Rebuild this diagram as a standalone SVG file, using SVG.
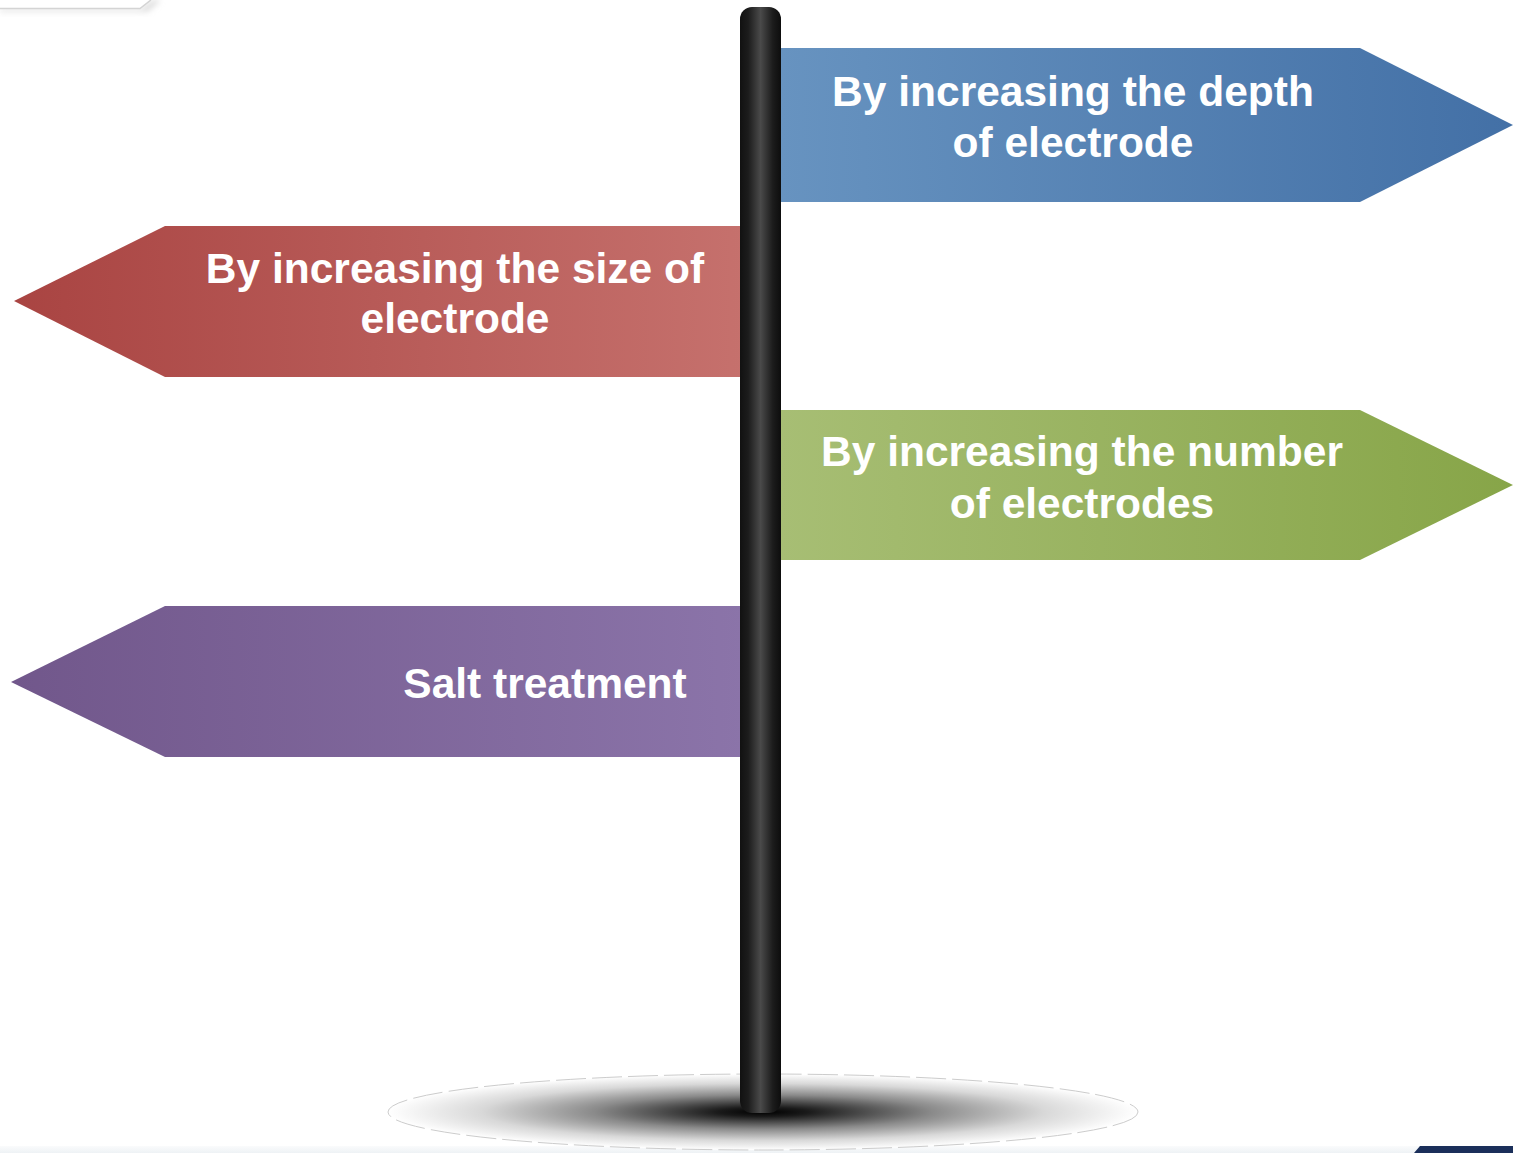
<svg xmlns="http://www.w3.org/2000/svg" width="1513" height="1153" viewBox="0 0 1513 1153">
<defs>
<linearGradient id="gBlue" x1="0" y1="0" x2="1" y2="0"><stop offset="0" stop-color="#6793c0"/><stop offset="1" stop-color="#4370a6"/></linearGradient>
<linearGradient id="gRed" x1="0" y1="0" x2="1" y2="0"><stop offset="0" stop-color="#a94442"/><stop offset="1" stop-color="#c7736f"/></linearGradient>
<linearGradient id="gGreen" x1="0" y1="0" x2="1" y2="0"><stop offset="0" stop-color="#a7be74"/><stop offset="1" stop-color="#87a548"/></linearGradient>
<linearGradient id="gPurple" x1="0" y1="0" x2="1" y2="0"><stop offset="0" stop-color="#71578b"/><stop offset="1" stop-color="#8b74a9"/></linearGradient>
<linearGradient id="gPole" x1="0" y1="0" x2="1" y2="0"><stop offset="0" stop-color="#111"/><stop offset="0.2" stop-color="#1c1c1c"/><stop offset="0.5" stop-color="#4a4a4a"/><stop offset="0.8" stop-color="#1c1c1c"/><stop offset="1" stop-color="#0d0d0d"/></linearGradient>
<radialGradient id="gShadow" cx="0.5" cy="0.5" r="0.5"><stop offset="0" stop-color="#000"/><stop offset="0.12" stop-color="#1a1a1a"/><stop offset="0.45" stop-color="#8a8a8a"/><stop offset="0.75" stop-color="#d8d8d8"/><stop offset="1" stop-color="#fff"/></radialGradient>
<linearGradient id="gBand" x1="0" y1="0" x2="0" y2="1"><stop offset="0" stop-color="#fafbfc"/><stop offset="1" stop-color="#eef2f5"/></linearGradient>
<filter id="soft" x="-0.2" y="-0.5" width="1.4" height="2"><feGaussianBlur stdDeviation="3"/></filter>
</defs>
<style>
.lbl{font-family:"Liberation Sans",Arial,sans-serif;font-weight:bold;font-size:42.5px;fill:#fff;text-anchor:middle}
</style>
<rect width="1513" height="1153" fill="#fff"/>
<g id="corner">
<path d="M0,9 L142,9 L155,0 L160,0 L147,11 L0,11 Z" fill="#ccc" filter="url(#soft)"/>
<path d="M0,0 L150,0 L140,8 L0,8 Z" fill="#fff"/>
<path d="M0,8.5 L140,8.5 L151,0" fill="none" stroke="#d4d4d4" stroke-width="1.5"/>
</g>
<g id="footer">
<rect x="0" y="1146" width="1513" height="7" fill="url(#gBand)"/>
<path d="M1420,1146 L1513,1146 L1513,1153 L1414,1153 Z" fill="#1b2f5a"/>
</g>
<g id="shadow">
<ellipse cx="763" cy="1112" rx="375" ry="38" fill="url(#gShadow)"/>
<ellipse cx="763" cy="1112" rx="375" ry="38" fill="none" stroke="#ccc" stroke-width="1" stroke-dasharray="30 6"/>
</g>
<g id="node-depth">
<path d="M781,48 L1360,48 L1513,125 L1360,202 L781,202 Z" fill="url(#gBlue)"/>
<text class="lbl" x="1073" y="106">By increasing the depth</text>
<text class="lbl" x="1073" y="157">of electrode</text>
</g>
<g id="node-size">
<path d="M781,226 L165,226 L14,301 L165,377 L781,377 Z" fill="url(#gRed)"/>
<text class="lbl" x="455" y="283">By increasing the size of</text>
<text class="lbl" x="455" y="333">electrode</text>
</g>
<g id="node-number">
<path d="M781,410 L1360,410 L1513,485 L1360,560 L781,560 Z" fill="url(#gGreen)"/>
<text class="lbl" x="1082" y="466">By increasing the number</text>
<text class="lbl" x="1082" y="518">of electrodes</text>
</g>
<g id="node-salt">
<path d="M745,606 L165,606 L11,682 L165,757 L745,757 Z" fill="url(#gPurple)"/>
<text class="lbl" x="545" y="698">Salt treatment</text>
</g>
<g id="pole">
<rect x="740" y="7" width="41" height="1106" rx="12" fill="url(#gPole)"/>
</g>
<g id="connectors"/>
</svg>
